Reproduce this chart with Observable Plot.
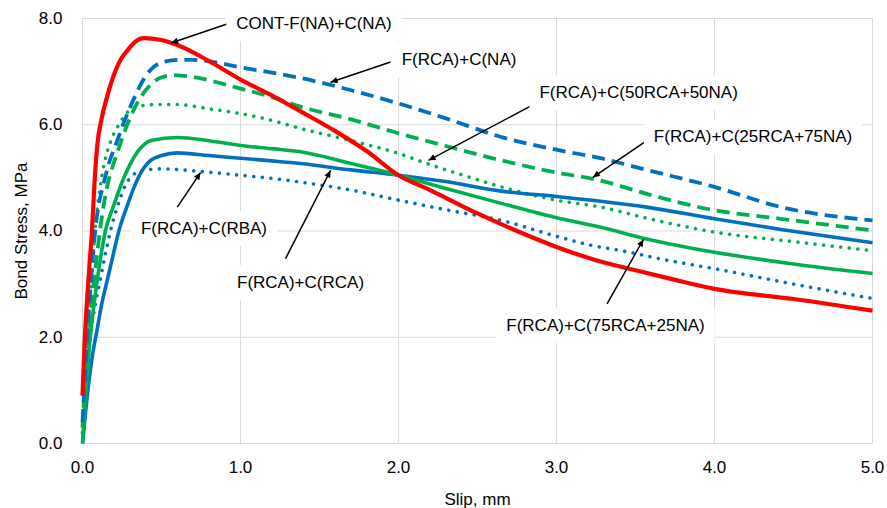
<!DOCTYPE html>
<html>
<head>
<meta charset="utf-8">
<script src="https://cdn.jsdelivr.net/npm/d3@7"></script>
<script src="https://cdn.jsdelivr.net/npm/@observablehq/plot@0.6"></script>
<style>
  html, body { margin: 0; padding: 0; background: #fff; }
  #chart { width: 887px; height: 508px; }
</style>
</head>
<body>
<div id="chart"></div>
<script>
// ---- Axis ticks ----
const xTicks = [0, 1, 2, 3, 4, 5];
const yTicks = [0, 2, 4, 6, 8];

// ---- Series: CONT-F(NA)+C(NA) (red solid) ----
const contSlip   = [0, 0.015, 0.03, 0.045, 0.06, 0.075, 0.093, 0.12, 0.156, 0.2, 0.24, 0.29, 0.325, 0.39, 0.49, 0.6, 0.8, 1.0, 1.2, 1.4, 1.6, 1.8, 2.0, 2.2, 2.5, 2.75, 3.0, 3.25, 3.5, 3.75, 4.0, 4.5, 5.0];
const contStress = [0.9, 2.0, 2.75, 3.4, 4.0, 4.85, 5.6, 6.1, 6.53, 6.95, 7.22, 7.42, 7.54, 7.63, 7.6, 7.5, 7.2, 6.85, 6.55, 6.22, 5.88, 5.5, 5.05, 4.77, 4.33, 4.0, 3.7, 3.45, 3.26, 3.08, 2.91, 2.72, 2.5];

// ---- F(RCA)+C(NA) (blue dashed) ----
const naSlip   = [0, 0.02, 0.035, 0.05, 0.065, 0.08, 0.1, 0.13, 0.17, 0.21, 0.25, 0.29, 0.33, 0.38, 0.43, 0.5, 0.6, 0.7, 0.85, 1.0, 1.2, 1.38, 1.7, 2.0, 2.3, 2.65, 3.0, 3.28, 3.57, 4.0, 4.42, 5.0];
const naStress = [0.4, 1.5, 2.3, 2.9, 3.5, 4.0, 4.45, 4.85, 5.3, 5.62, 5.95, 6.25, 6.52, 6.82, 7.03, 7.17, 7.22, 7.22, 7.17, 7.08, 6.98, 6.88, 6.65, 6.4, 6.12, 5.77, 5.53, 5.37, 5.15, 4.83, 4.45, 4.2];

// ---- F(RCA)+C(25RCA+75NA) (green dashed) ----
const r25Slip   = [0, 0.02, 0.045, 0.07, 0.09, 0.11, 0.157, 0.2, 0.24, 0.29, 0.35, 0.43, 0.51, 0.6, 0.7, 0.85, 1.0, 1.2, 1.38, 1.7, 2.0, 2.3, 2.65, 3.0, 3.28, 3.57, 4.0, 4.42, 5.0];
const r25Stress = [0.3, 1.4, 2.3, 3.0, 3.5, 4.0, 4.85, 5.3, 5.65, 6.05, 6.43, 6.75, 6.9, 6.93, 6.9, 6.8, 6.68, 6.52, 6.34, 6.1, 5.84, 5.6, 5.33, 5.1, 4.95, 4.7, 4.39, 4.23, 4.01];

// ---- F(RCA)+C(50RCA+50NA) (green dotted) ----
const r50Slip   = [0, 0.02, 0.04, 0.06, 0.08, 0.11, 0.14, 0.18, 0.23, 0.29, 0.36, 0.45, 0.6, 0.8, 1.0, 1.2, 1.38, 1.7, 2.0, 2.2, 2.44, 2.65, 3.0, 3.28, 3.6, 4.0, 4.5, 5.0];
const r50Stress = [0.2, 1.4, 2.4, 3.2, 4.0, 4.8, 5.3, 5.7, 6.0, 6.25, 6.35, 6.38, 6.38, 6.3, 6.21, 6.08, 5.93, 5.7, 5.46, 5.25, 5.02, 4.83, 4.58, 4.45, 4.22, 3.98, 3.8, 3.63];

// ---- F(RCA)+C(75RCA+25NA) (green solid) ----
const r75Slip   = [0, 0.02, 0.04, 0.06, 0.09, 0.145, 0.2, 0.245, 0.3, 0.35, 0.44, 0.6, 0.8, 1.0, 1.2, 1.38, 1.7, 2.0, 2.3, 2.65, 3.0, 3.28, 3.57, 4.0, 4.5, 5.0];
const r75Stress = [0, 0.9, 1.7, 2.3, 3.0, 4.0, 4.5, 4.88, 5.25, 5.5, 5.71, 5.76, 5.7, 5.61, 5.55, 5.49, 5.27, 5.05, 4.8, 4.52, 4.25, 4.07, 3.85, 3.6, 3.38, 3.2];

// ---- F(RCA)+C(RCA) (blue solid) ----
const rcaSlip   = [0, 0.02, 0.04, 0.065, 0.09, 0.12, 0.155, 0.19, 0.23, 0.28, 0.33, 0.38, 0.42, 0.5, 0.6, 0.8, 1.0, 1.2, 1.38, 1.7, 2.0, 2.3, 2.65, 3.0, 3.28, 3.57, 4.0, 4.42, 5.0];
const rcaStress = [0, 0.6, 1.15, 1.7, 2.1, 2.6, 3.05, 3.5, 4.0, 4.45, 4.85, 5.15, 5.3, 5.42, 5.47, 5.42, 5.37, 5.32, 5.27, 5.15, 5.05, 4.93, 4.75, 4.65, 4.56, 4.45, 4.23, 4.03, 3.78];

// ---- F(RCA)+C(RBA) (blue dotted) ----
const rbaSlip   = [0, 0.02, 0.05, 0.08, 0.11, 0.14, 0.177, 0.22, 0.27, 0.33, 0.4, 0.5, 0.75, 1.0, 1.2, 1.38, 1.7, 2.0, 2.3, 2.65, 3.0, 3.22, 3.41, 3.7, 4.0, 4.5, 5.0];
const rbaStress = [0.2, 0.9, 2.0, 2.6, 3.05, 3.5, 4.0, 4.45, 4.85, 5.08, 5.15, 5.17, 5.12, 5.05, 4.99, 4.92, 4.77, 4.58, 4.4, 4.2, 3.9, 3.73, 3.63, 3.45, 3.29, 3.0, 2.73];

// ---- Annotations ----
const labelText = ["CONT-F(NA)+C(NA)", "F(RCA)+C(NA)", "F(RCA)+C(50RCA+50NA)", "F(RCA)+C(25RCA+75NA)", "F(RCA)+C(RBA)", "F(RCA)+C(RCA)", "F(RCA)+C(75RCA+25NA)"];
const labelX    = [1.465, 2.383, 3.52, 4.244, 0.769, 1.38, 3.31];
const labelY    = [7.9, 7.22, 6.6, 5.77, 4.05, 3.03, 2.22];
const arrowX1   = [0.92, 1.95, 2.835, 3.576, 0.6, 1.285, 3.32];
const arrowY1   = [7.9, 7.18, 6.35, 5.71, 4.45, 3.48, 2.63];
const arrowX2   = [0.56, 1.57, 2.19, 3.23, 0.747, 1.57, 3.55];
const arrowY2   = [7.54, 6.8, 5.33, 5.01, 5.1, 5.14, 3.84];

const RED = "#FF0000", BLUE = "#0070C0", GREEN = "#00B050";
const FONT = "'Liberation Sans', Arial, sans-serif";

const pts = (xs, ys) => xs.map((x, i) => ({x, y: ys[i]}));
const labels = labelText.map((t, i) => ({t, x: labelX[i], y: labelY[i]}));
const arrows = arrowX1.map((x1, i) => ({x1, y1: arrowY1[i], x2: arrowX2[i], y2: arrowY2[i]}));

const lineOpts = (stroke, width, dash, cap) => ({
  x: "x", y: "y", stroke, strokeWidth: width, curve: "monotone-x",
  strokeDasharray: dash, strokeLinecap: cap || "butt", strokeLinejoin: "round"
});

const DOT = "0.01,8.6";
const DASH = "13,7";

const plot = Plot.plot({
  width: 887,
  height: 508,
  marginLeft: 82,
  marginRight: 15,
  marginTop: 18,
  marginBottom: 65,
  style: {fontFamily: FONT, fontSize: "17px", color: "#000", background: "#fff"},
  x: {domain: [0, 5], ticks: xTicks, tickFormat: d3.format(".1f"), tickSize: 0, tickPadding: 17,
      label: "Slip, mm", labelAnchor: "center", labelOffset: 61, labelArrow: "none"},
  y: {domain: [0, 8], ticks: yTicks, tickFormat: d3.format(".1f"), tickSize: 0, tickPadding: 20,
      label: "Bond Stress, MPa", labelAnchor: "center", labelOffset: 68, labelArrow: "none"},
  marks: [
    Plot.ruleX(xTicks, {stroke: "#d9d9d9", strokeWidth: 1}),
    Plot.ruleY(yTicks, {stroke: "#d9d9d9", strokeWidth: 1}),
    Plot.line(pts(rbaSlip, rbaStress), lineOpts(BLUE, 3.6, DOT, "round")),
    Plot.line(pts(r50Slip, r50Stress), lineOpts(GREEN, 3.6, DOT, "round")),
    Plot.line(pts(rcaSlip, rcaStress), lineOpts(BLUE, 3.6)),
    Plot.line(pts(r75Slip, r75Stress), lineOpts(GREEN, 3.6)),
    Plot.line(pts(r25Slip, r25Stress), lineOpts(GREEN, 3.8, DASH)),
    Plot.line(pts(naSlip, naStress), lineOpts(BLUE, 3.8, DASH)),
    Plot.line(pts(contSlip, contStress), lineOpts(RED, 4.2)),
    Plot.link(arrows, {x1: "x1", y1: "y1", x2: "x2", y2: "y2", stroke: "#000", strokeWidth: 1.5, markerEnd: "arrow"}),
    Plot.text(labels, {x: "x", y: "y", text: "t", fontSize: 17, fontFamily: FONT, fill: "#000", ariaLabel: null})
  ]
});

document.getElementById("chart").appendChild(plot);

// Filled arrowheads
d3.select(plot).selectAll("marker").attr("overflow", "visible");
d3.select(plot).selectAll("marker path")
  .attr("d", "M-7,-3.2L0,0L-7,3.2Z")
  .attr("fill", "#000")
  .attr("stroke", "none");

// White boxes behind annotation labels
d3.select(plot).selectAll('g[aria-label="text"] text').each(function () {
  const b = this.getBBox();
  this.parentNode.insertBefore(
    d3.create("svg:rect")
      .attr("x", b.x - 10).attr("y", b.y - 8)
      .attr("width", b.width + 20).attr("height", b.height + 16)
      .attr("fill", "#fff")
      .attr("transform", this.getAttribute("transform"))
      .node(),
    this
  );
});
</script>
</body>
</html>
